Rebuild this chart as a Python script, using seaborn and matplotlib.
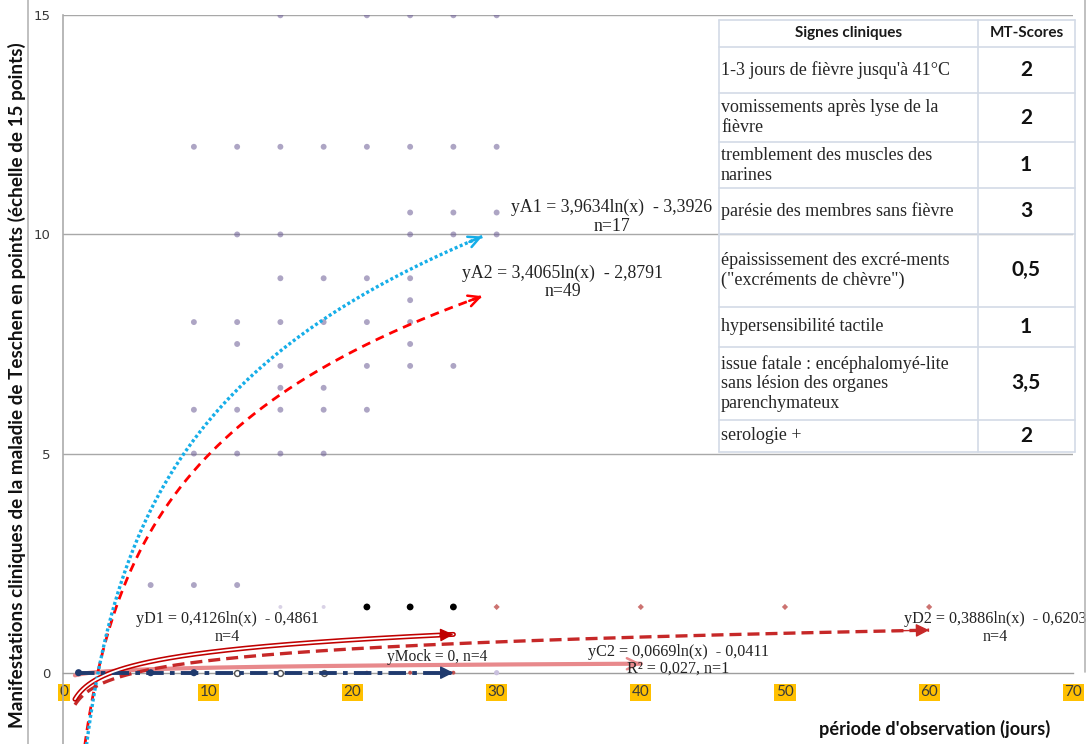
import numpy as np
import pandas as pd
import matplotlib
matplotlib.use("Agg")
import matplotlib.pyplot as plt
from matplotlib.lines import Line2D
import seaborn as sns

# ---------------------------------------------------------------- data
# Individual clinical scores, group A (day of observation, MT score)
a_day = [15, 21, 24, 27, 30,
         9, 12, 15, 18, 21, 24, 27, 30,
         24, 27, 30,
         12, 15, 24, 27, 30,
         15, 18, 21, 24,
         24,
         9, 12, 15, 18, 21, 24,
         12, 24,
         15, 21, 24, 27,
         15, 18,
         9, 12, 15, 18, 21,
         9, 12, 15, 18,
         6, 9, 12]
a_score = [15, 15, 15, 15, 15,
           12, 12, 12, 12, 12, 12, 12, 12,
           10.5, 10.5, 10.5,
           10, 10, 10, 10, 10,
           9, 9, 9, 9,
           8.5,
           8, 8, 8, 8, 8, 8,
           7.5, 7.5,
           7, 7, 7, 7,
           6.5, 6.5,
           6, 6, 6, 6, 6,
           5, 5, 5, 5,
           2, 2, 2]

# Group D1 scores (black) and group D2 scores (red)
d1_day = [21, 24, 27]
d1_score = [1.5, 1.5, 1.5]
d2_day = [30, 40, 50, 60]
d2_score = [1.5, 1.5, 1.5, 1.5]
faint_day = [15, 18]
faint_score = [1.5, 1.5]

# Animals without symptoms (score 0)
mock_day = [1, 6, 9]
mock_score = [0, 0, 0]
c_day = [12, 15, 18]
c_score = [0, 0, 0]
c2_day = [21, 24, 27]
c2_score = [0, 0, 0]
late_day = [30]
late_score = [0]

# Logarithmic trend lines  y = a*ln(x) + b
trend_name = ["A1", "A2", "D1", "D2", "C2", "Mock"]
trend_a = [3.9634, 3.4065, 0.4126, 0.3886, 0.0669, 0.0]
trend_b = [-3.3926, -2.8791, -0.4861, -0.6203, -0.0411, 0.0]
trend_from = [1.3, 1.25, 0.75, 0.75, 0.75, 0.9]
trend_to = [29, 29, 27, 60, 40, 27]

trend_label = [
    "yA1 = 3,9634ln(x)  - 3,3926\nn=17",
    "yA2 = 3,4065ln(x)  - 2,8791\nn=49",
    "yD1 = 0,4126ln(x)  - 0,4861\nn=4",
    "yD2 = 0,3886ln(x)  - 0,6203\nn=4",
    "yC2 = 0,0669ln(x)  - 0,0411\nR\u00b2 = 0,027, n=1",
    "yMock = 0, n=4",
]

x_ticks = [0, 10, 20, 30, 40, 50, 60, 70]
y_ticks = [0, 5, 10, 15]

signs = [
    "1-3 jours de fi\u00e8vre jusqu'\u00e0 41\u00b0C",
    "vomissements apr\u00e8s lyse de la\nfi\u00e8vre",
    "tremblement des muscles des\nnarines",
    "par\u00e9sie des membres sans fi\u00e8vre",
    "\u00e9paississement des excr\u00e9-ments\n(\"excr\u00e9ments de ch\u00e8vre\")",
    "hypersensibilit\u00e9 tactile",
    "issue fatale : enc\u00e9phalomy\u00e9-lite\nsans l\u00e9sion des organes\nparenchymateux",
    "serologie +",
]
scores = ["2", "2", "1", "3", "0,5", "1", "3,5", "2"]

# ---------------------------------------------------------------- style
sns.set_theme(style="white")
plt.rcParams["font.family"] = ["Lato", "DejaVu Sans"]
SERIF = ["Liberation Serif", "DejaVu Serif"]

W, H = 1091, 744
fig = plt.figure(figsize=(W / 100, H / 100), dpi=100)


def fx(px):
    return px / W


def fy(py):
    return 1 - py / H


ax = fig.add_axes([fx(62.7), 0, fx(1073.3) - fx(62.7), fy(15.3)])
ax.set_xlim(-0.1, 70)
ax.set_ylim(-1.627, 15)
ax.set_facecolor("white")

# ---------------------------------------------------------------- scatter
sns.scatterplot(x=a_day, y=a_score, ax=ax, color="#6B5B95", s=18, alpha=0.55,
                edgecolor="none", legend=False, zorder=2)
sns.scatterplot(x=faint_day, y=faint_score, ax=ax, color="#D9D2E6", s=8,
                edgecolor="none", legend=False, zorder=2)
sns.scatterplot(x=d1_day, y=d1_score, ax=ax, color="black", s=24,
                edgecolor="none", legend=False, zorder=2)
sns.scatterplot(x=d2_day, y=d2_score, ax=ax, color="#C0504D", s=10, marker="D",
                alpha=0.8, edgecolor="none", legend=False, zorder=2)
sns.scatterplot(x=c_day, y=c_score, ax=ax, color="white", s=18,
                edgecolor="#505050", linewidth=1.0, legend=False, zorder=4)
sns.scatterplot(x=c2_day, y=c2_score, ax=ax, color="#C0504D", s=8,
                edgecolor="none", legend=False, zorder=4)
sns.scatterplot(x=late_day, y=late_score, ax=ax, color="#C9C0DE", s=14,
                edgecolor="none", legend=False, zorder=4)

# ---------------------------------------------------------------- trend lines
styles = {
    "A1": dict(color="#16AEE8", lw=2.4, ls=(0, (0.9, 0.75)), head="->"),
    "A2": dict(color="#FF0000", lw=2.0, ls=(0, (3.2, 2.2)), head="->"),
    "D1": dict(color="#C00000", lw=3.6, ls="-", head="-|>"),
    "D2": dict(color="#C62828", lw=2.4, ls=(0, (3.6, 1.8)), head="-|>"),
    "C2": dict(color="#E8898C", lw=3.0, ls="-", head="->"),
    "Mock": dict(color="#1F3A6E", lw=2.8, ls=(0, (4.5, 1.6, 1.2, 1.6)), head="-|>"),
}
order = ["C2", "D2", "D1", "A2", "A1", "Mock"]

for name in order:
    i = trend_name.index(name)
    st = styles[name]
    xs = np.geomspace(trend_from[i], trend_to[i], 300)
    ys = trend_a[i] * np.log(xs) + trend_b[i]
    df = pd.DataFrame({"x": xs, "y": ys})
    sns.lineplot(data=df, x="x", y="y", ax=ax, color=st["color"], lw=st["lw"],
                 estimator=None, sort=False, legend=False, zorder=5)
    ax.lines[-1].set_linestyle(st["ls"])
    if name == "D1":
        sns.lineplot(data=df, x="x", y="y", ax=ax, color="white", lw=1.3,
                     estimator=None, sort=False, legend=False, zorder=5.1)
    if name == "Mock":
        sns.scatterplot(x=mock_day, y=mock_score, ax=ax, color=st["color"],
                        s=26, edgecolor="none", legend=False, zorder=6)
    # arrow head at the end of the trend line
    ax.annotate("", xy=(xs[-1], ys[-1]), xytext=(xs[-4], ys[-4]),
                arrowprops=dict(arrowstyle=st["head"], color=st["color"],
                                lw=1.8 if st["head"] == "->" else 1.0,
                                mutation_scale=20, shrinkA=0, shrinkB=0),
                zorder=6, annotation_clip=False)

# equation labels
label_pos = {
    "A1": (38.0, 10.4, 12.8),
    "A2": (34.6, 8.91, 12.8),
    "D1": (11.3, 1.02, 11.6),
    "D2": (64.6, 1.02, 11.6),
    "C2": (42.6, 0.28, 11.6),
    "Mock": (25.9, 0.36, 11.2),
}
for name, (lx, ly, fs) in label_pos.items():
    i = trend_name.index(name)
    ax.text(lx, ly, trend_label[i], ha="center", va="center",
            multialignment="center", fontsize=fs, color="#222222",
            family=SERIF, linespacing=1.1, zorder=7, clip_on=False)

# ---------------------------------------------------------------- axes, ticks, grid
for s in ["top", "right"]:
    ax.spines[s].set_visible(False)
ax.spines["left"].set_color("#ABABAB")
ax.spines["left"].set_linewidth(1.2)
ax.spines["bottom"].set_position(("data", 0))
ax.spines["bottom"].set_color("#9E9E9E")
ax.spines["bottom"].set_linewidth(1.0)
for yv in y_ticks[1:]:
    ax.axhline(yv, color="#A8A8A8", lw=1.0, zorder=0.5)

ax.set_xticks(x_ticks, [str(v) for v in x_ticks])
ax.set_yticks(y_ticks, [str(v) for v in y_ticks])
ax.tick_params(axis="x", direction="out", length=3, width=0.9, color="#9E9E9E",
               pad=6, labelsize=11, labelcolor="#3A3A3A")
ax.tick_params(axis="y", direction="out", length=4, width=0.9, color="#9E9E9E",
               pad=5, labelsize=9.5, labelcolor="#383838")
for lbl in ax.get_yticklabels():
    lbl.set_fontfamily("DejaVu Sans")
for lbl in ax.get_xticklabels():
    lbl.set_bbox(dict(facecolor="#FFC000", edgecolor="none", pad=1.2))
ax.set_xlabel("")
ax.set_ylabel("")

# ---------------------------------------------------------------- table of signs
tbl_x = [719, 978, 1075]
tbl_rows = [20, 46.7, 93.3, 142.3, 188.3, 233.5, 306.7, 346.7, 420, 452]
line_col = "#D3DAE6"
for px in tbl_x:
    ax.add_line(Line2D([fx(px), fx(px)], [fy(tbl_rows[0]), fy(tbl_rows[-1])],
                       transform=fig.transFigure, color=line_col, lw=1.2,
                       zorder=1, clip_on=False))
for py in tbl_rows:
    ax.add_line(Line2D([fx(tbl_x[0]), fx(tbl_x[-1])], [fy(py), fy(py)],
                       transform=fig.transFigure, color=line_col, lw=1.2,
                       zorder=1, clip_on=False))

hdr_y = (tbl_rows[0] + tbl_rows[1]) / 2
ax.text(fx((tbl_x[0] + tbl_x[1]) / 2), fy(hdr_y), "Signes cliniques",
        transform=fig.transFigure, ha="center", va="center", fontsize=11,
        fontweight="bold", color="#1A1A1A")
ax.text(fx((tbl_x[1] + tbl_x[2]) / 2), fy(hdr_y), "MT-Scores",
        transform=fig.transFigure, ha="center", va="center", fontsize=11,
        fontweight="bold", color="#1A1A1A")
for k, (sign, sc) in enumerate(zip(signs, scores)):
    cy = (tbl_rows[k + 1] + tbl_rows[k + 2]) / 2
    ax.text(fx(721), fy(cy), sign, transform=fig.transFigure, ha="left",
            va="center", fontsize=13, color="#262626", linespacing=1.2,
            family=SERIF)
    ax.text(fx(1026), fy(cy), sc, transform=fig.transFigure, ha="center",
            va="center", fontsize=15, fontweight="bold", color="#111111")

# ---------------------------------------------------------------- axis titles and frame
fig.text(fx(17), fy(385),
         "Manifestations cliniques de la maladie de Teschen en points (\u00e9chelle de 15 points)",
         rotation=90, ha="center", va="center", fontsize=13.6, fontweight="bold",
         color="#111111")
fig.text(fx(935), fy(729), "p\u00e9riode d'observation (jours)", ha="center",
         va="center", fontsize=13.1, fontweight="bold", color="#111111")

fig.add_artist(Line2D([fx(28), fx(28)], [0, 1], color="#B5B5B5", lw=1.2))
fig.add_artist(Line2D([fx(1085), fx(1085)], [fy(672), 1], color="#B5B5B5", lw=1.2))

fig.savefig("out.png", dpi=100, facecolor="white")
